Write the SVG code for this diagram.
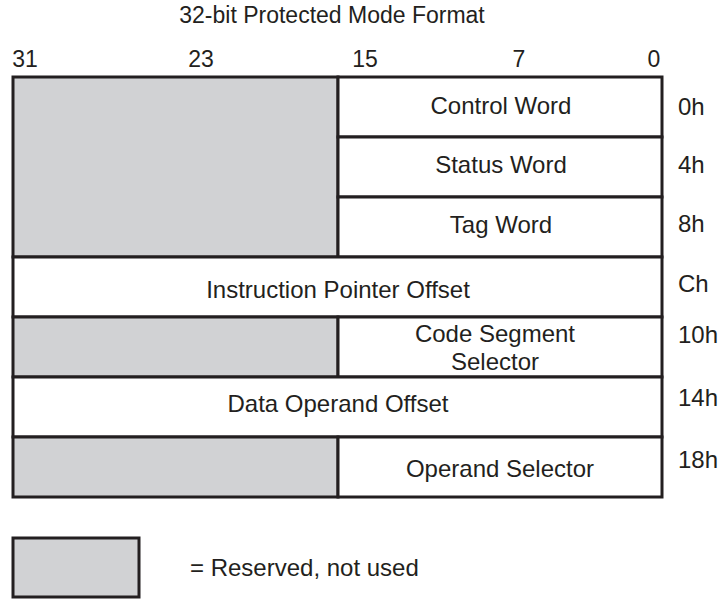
<svg xmlns="http://www.w3.org/2000/svg" width="722" height="600" viewBox="0 0 722 600">
<style>
text{font-family:"Liberation Sans",Arial,sans-serif;fill:#231f20}
.t{font-size:24px;text-anchor:middle}
.b{font-size:23px;text-anchor:middle}
.o{font-size:24px}
.g{fill:#d1d2d4;stroke:#231f20;stroke-width:3}
.w{fill:#ffffff;stroke:#231f20;stroke-width:3}
</style>
<rect width="722" height="600" fill="#ffffff"/>
<text class="b" x="332" y="23">32-bit Protected Mode Format</text>
<g id="bits">
<text class="b" x="25" y="67">31</text>
<text class="b" x="201" y="67">23</text>
<text class="b" x="365" y="67">15</text>
<text class="b" x="519" y="67">7</text>
<text class="b" x="654" y="67">0</text>
</g>
<g id="reserved1"><rect class="g" x="13" y="77" width="325" height="180"/></g>
<g id="control"><rect class="w" x="338" y="77" width="324" height="60"/><text class="t" x="501" y="114">Control Word</text></g>
<g id="status"><rect class="w" x="338" y="137" width="324" height="60"/><text class="t" x="501" y="173">Status Word</text></g>
<g id="tag"><rect class="w" x="338" y="197" width="324" height="60"/><text class="t" x="501" y="233">Tag Word</text></g>
<g id="ip"><rect class="w" x="13" y="257" width="649" height="60"/><text class="t" x="338" y="298">Instruction Pointer Offset</text></g>
<g id="reserved2"><rect class="g" x="13" y="317" width="325" height="60"/></g>
<g id="cs"><rect class="w" x="338" y="317" width="324" height="60"/><text class="t" x="495" y="342">Code Segment</text><text class="t" x="495" y="370">Selector</text></g>
<g id="dop"><rect class="w" x="13" y="377" width="649" height="60"/><text class="t" x="338" y="412">Data Operand Offset</text></g>
<g id="reserved3"><rect class="g" x="13" y="437" width="325" height="60"/></g>
<g id="os"><rect class="w" x="338" y="437" width="324" height="60"/><text class="t" x="500" y="477">Operand Selector</text></g>
<g id="offsets">
<text class="o" x="678" y="115">0h</text>
<text class="o" x="678" y="173">4h</text>
<text class="o" x="678" y="232">8h</text>
<text class="o" x="678" y="292">Ch</text>
<text class="o" x="678" y="343">10h</text>
<text class="o" x="678" y="406">14h</text>
<text class="o" x="678" y="468">18h</text>
</g>
<g id="connectors"></g>
<g id="legend"><rect class="g" x="13" y="538" width="126" height="59"/><text class="o" x="190" y="576">= Reserved, not used</text></g>
</svg>
